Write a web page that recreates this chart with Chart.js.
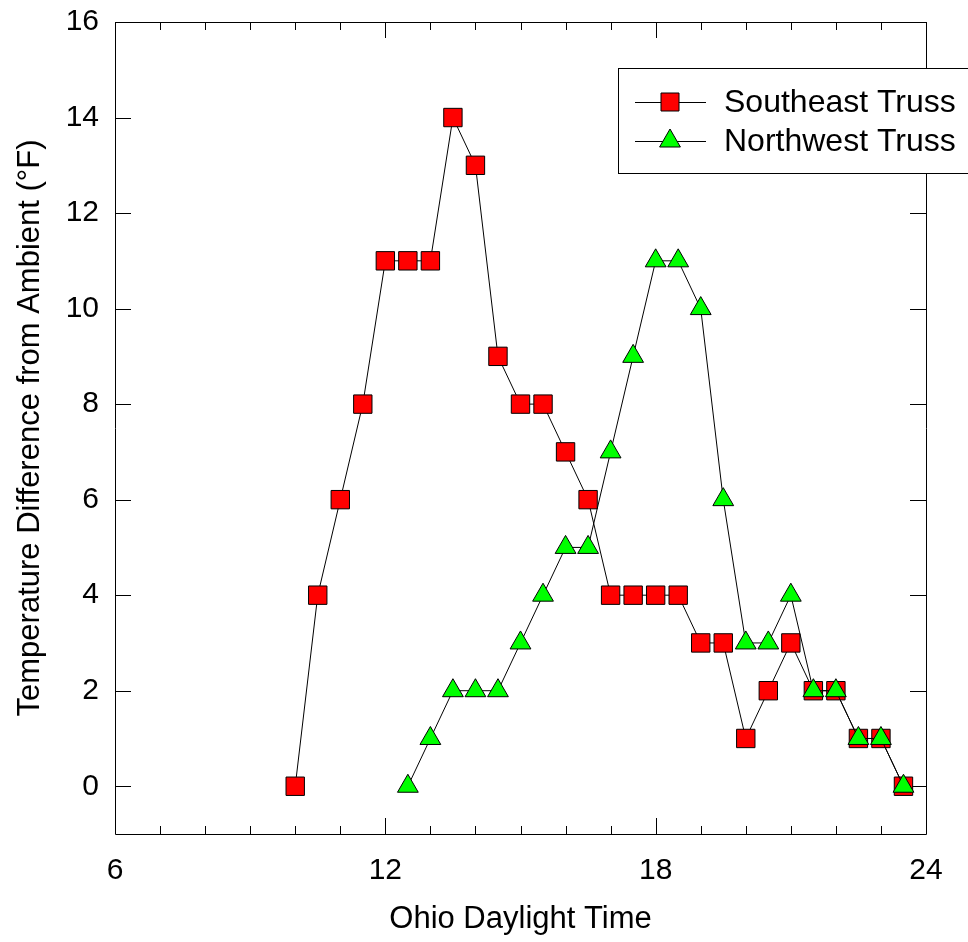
<!DOCTYPE html>
<html>
<head>
<meta charset="utf-8">
<script src="https://cdn.jsdelivr.net/npm/chart.js@4/dist/chart.umd.min.js"></script>
<style>
    html, body { margin: 0; padding: 0; background: #fff; }
    canvas { display: block; }
</style>
</head>
<body>
<canvas id="chart" width="968" height="942"></canvas>
<script>
// Data
const seriesNames = ['Southeast Truss', 'Northwest Truss']
const southeastHours = [10, 10.5, 11, 11.5, 12, 12.5, 13, 13.5, 14, 14.5, 15, 15.5, 16, 16.5, 17, 17.5, 18, 18.5, 19, 19.5, 20, 20.5, 21, 21.5, 22, 22.5, 23, 23.5]
const southeastDiff = [0, 4, 6, 8, 11, 11, 11, 14, 13, 9, 8, 8, 7, 6, 4, 4, 4, 4, 3, 3, 1, 2, 3, 2, 2, 1, 1, 0]
const northwestHours = [12.5, 13, 13.5, 14, 14.5, 15, 15.5, 16, 16.5, 17, 17.5, 18, 18.5, 19, 19.5, 20, 20.5, 21, 21.5, 22, 22.5, 23, 23.5]
const northwestDiff = [0, 1, 2, 2, 2, 3, 4, 5, 5, 7, 9, 11, 11, 10, 6, 3, 3, 4, 2, 2, 1, 1, 0]
const xTickLabels = [6, 12, 18, 24]
const xMinorTicks = [7, 8, 9, 10, 11, 13, 14, 15, 16, 17, 19, 20, 21, 22, 23]
const yTickLabels = [0, 2, 4, 6, 8, 10, 12, 14, 16]

const FONT = 'Liberation Sans, Arial, sans-serif'

function toPoints (xs, ys) {
    return xs.map((x, i) => ({ x: x, y: ys[i] }))
}

// Frame, inward ticks and legend box
const framePlugin = {
    id: 'frame',
    beforeDatasetsDraw (chart) {
        const ctx = chart.ctx
        const a = chart.chartArea
        const xs = chart.scales.x
        const ys = chart.scales.y
        ctx.save()
        ctx.strokeStyle = '#000'
        ctx.lineWidth = 1
        ctx.beginPath()
        ctx.rect(Math.round(a.left) + 0.5, Math.round(a.top) + 0.5, Math.round(a.right - a.left), Math.round(a.bottom - a.top))
        ctx.stroke()

        ctx.beginPath()
        xTickLabels.forEach(v => {
            const px = Math.round(xs.getPixelForValue(v)) + 0.5
            ctx.moveTo(px, a.bottom); ctx.lineTo(px, a.bottom - 16)
            ctx.moveTo(px, a.top); ctx.lineTo(px, a.top + 16)
        })
        xMinorTicks.forEach(v => {
            const px = Math.round(xs.getPixelForValue(v)) + 0.5
            ctx.moveTo(px, a.bottom); ctx.lineTo(px, a.bottom - 8)
            ctx.moveTo(px, a.top); ctx.lineTo(px, a.top + 8)
        })
        yTickLabels.forEach(v => {
            const py = Math.round(ys.getPixelForValue(v)) + 0.5
            ctx.moveTo(a.left, py); ctx.lineTo(a.left + 16, py)
            ctx.moveTo(a.right, py); ctx.lineTo(a.right - 16, py)
        })
        ctx.stroke()
        ctx.restore()
    },
    afterDraw (chart) {
        const ctx = chart.ctx
        ctx.save()
        // legend box
        ctx.fillStyle = '#fff'
        ctx.fillRect(618.5, 68.5, 400, 105)
        ctx.strokeStyle = '#000'
        ctx.lineWidth = 1
        ctx.strokeRect(618.5, 68.5, 400, 105)

        const rows = [102, 141]
        chart.data.datasets.forEach((ds, i) => {
            const y = rows[i]
            ctx.beginPath()
            ctx.moveTo(635, y + 0.5)
            ctx.lineTo(706, y + 0.5)
            ctx.strokeStyle = '#000'
            ctx.stroke()
            ctx.fillStyle = ds.pointBackgroundColor
            ctx.beginPath()
            if (ds.pointStyle === 'rect') {
                ctx.rect(661, y - 9, 18, 18)
            } else {
                ctx.moveTo(670, y - 12)
                ctx.lineTo(680.4, y + 6)
                ctx.lineTo(659.6, y + 6)
                ctx.closePath()
            }
            ctx.fill()
            ctx.stroke()
            ctx.fillStyle = '#000'
            ctx.font = '32px ' + FONT
            ctx.textBaseline = 'middle'
            ctx.textAlign = 'left'
            ctx.fillText(ds.label, 724, y + 1)
        })
        ctx.restore()
    }
}

const chart = new Chart(document.getElementById('chart').getContext('2d'), {
    type: 'line',
    data: {
        datasets: [
            {
                label: seriesNames[0],
                data: toPoints(southeastHours, southeastDiff),
                borderColor: '#000',
                borderWidth: 1,
                pointStyle: 'rect',
                pointRadius: 13,
                pointBackgroundColor: '#ff0000',
                pointBorderColor: '#000',
                pointBorderWidth: 1,
                order: 2
            },
            {
                label: seriesNames[1],
                data: toPoints(northwestHours, northwestDiff),
                borderColor: '#000',
                borderWidth: 1,
                pointStyle: 'triangle',
                pointRadius: 12,
                pointBackgroundColor: '#00ff00',
                pointBorderColor: '#000',
                pointBorderWidth: 1,
                order: 1
            }
        ]
    },
    options: {
        responsive: false,
        animation: false,
        devicePixelRatio: 1,
        layout: { padding: { top: 22, right: 42, left: 0, bottom: 0 } },
        plugins: {
            legend: { display: false },
            tooltip: { enabled: false }
        },
        scales: {
            x: {
                type: 'linear',
                min: 6,
                max: 24,
                grid: { display: false, drawTicks: false },
                border: { display: false },
                afterBuildTicks: s => { s.ticks = xTickLabels.map(v => ({ value: v })) },
                afterFit: s => { s.height = 108; s.paddingLeft = 0; s.paddingRight = 0 },
                ticks: { color: '#000', padding: 19, maxRotation: 0, font: { family: FONT, size: 30 } },
                title: { display: true, text: 'Ohio Daylight Time', color: '#000', padding: { bottom: 4 }, font: { family: FONT, size: 31 } }
            },
            y: {
                type: 'linear',
                min: -1,
                max: 16,
                grid: { display: false, drawTicks: false },
                border: { display: false },
                afterBuildTicks: s => { s.ticks = yTickLabels.map(v => ({ value: v })) },
                afterFit: s => { s.width = 115; s.paddingTop = 0; s.paddingBottom = 0 },
                ticks: { color: '#000', padding: 16, font: { family: FONT, size: 30 } },
                title: { display: true, text: 'Temperature Difference from Ambient (°F)', color: '#000', padding: { top: 12 }, font: { family: FONT, size: 31 } }
            }
        }
    },
    plugins: [framePlugin]
})
</script>
</body>
</html>
